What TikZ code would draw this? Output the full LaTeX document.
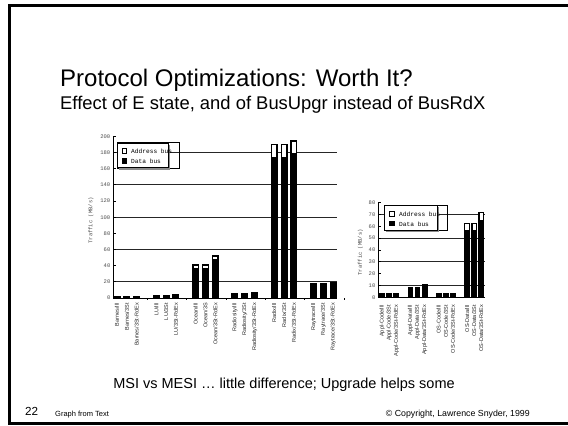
\documentclass[tikz,border=0pt]{standalone}
\usepackage{fontspec}
\setmainfont{Liberation Sans}
\newfontfamily\chartmono{Liberation Mono}
\usetikzlibrary{positioning}

\begin{document}
\begin{tikzpicture}[x=1pt,y=-1pt]
  \tikzstyle{slidetitle}=[anchor=base west,inner sep=0,font=\fontsize{24}{24}\selectfont]
  \tikzstyle{slidesub}=[anchor=base west,inner sep=0,font=\fontsize{18.4}{18.4}\selectfont]
  \tikzstyle{gridline}=[line width=0.9pt,black!85]
  \tikzstyle{axisline}=[line width=1pt]
  \tikzstyle{ticklbl}=[anchor=east,inner sep=0,font=\chartmono\fontsize{5.5}{5.5}\selectfont,text=black!70]
  \tikzstyle{ylbl}=[rotate=90,inner sep=0,font=\chartmono\fontsize{5.5}{5.5}\selectfont,text=black!70]
  \tikzstyle{xlbl}=[rotate=90,anchor=east,inner sep=0,font=\fontsize{5.5}{5.5}\selectfont,text=black!85]
  \tikzstyle{keytext}=[anchor=west,inner sep=0,font=\chartmono\fontsize{6.2}{6.2}\selectfont]
  \useasboundingbox (0,0) rectangle (568,426);
  \draw[line width=2.8pt] (9.5,5.5) rectangle (575,423.5);

  \node[slidetitle] (title) at (60,86) {Protocol Optimizations: Worth It?};
  \node[slidesub] (subtitle) at (60,109) {Effect of E state, and of BusUpgr instead of BusRdX};

  % left chart: applications
  \begin{scope}[shift={(113,298)},y=0.808pt]
    \foreach \v in {20,60,...,180}
      \draw[gridline] (0,\v) -- (224,\v);
    \draw[axisline] (0,200) -- (0,0) -- (224,0);
    \foreach \v in {0,20,...,200} {
      \draw[axisline] (0,\v) -- (2.5,\v);
      \node[ticklbl] (ltick\v) at (-2.5,\v) {\v};
    }
    \foreach \g in {0,...,5}
      \draw[axisline] (\g*39.32+34.4,0) -- (\g*39.32+34.4,-2.5);
    \node[ylbl] (laxis) at (-22,96) {Traffic (MB/s)};
    \foreach \s/\d/\t/\grp/\suf in {0/2/2/Barnes/Ill,1/2/2/Barnes/3St,2/2.6/2.6/Barnes/3St-RdEx,
        4/3.8/3.8/LU/Ill,5/3.8/3.8/LU/3St,6/4.5/4.5/LU/3St-RdEx,
        8/37/41.7/Ocean/Ill,9/37/41.7/Ocean/3S,10/48/53/Ocean/3St-RdEx,
        12/6.5/6.5/Radiosity/Ill,13/6.5/6.5/Radiosity/3St,14/7.5/7.5/Radiosity/3St-RdEx,
        16/175/191/Radix/Ill,17/175/191/Radix/3St,18/179/195/Radix/3St-RdEx,
        20/19/19/Raytrace/Ill,21/19/19/Raytrace/3St,22/20/20/Raytrace/3St-RdEx} {
      \pgfmathsetmacro\xa{\s*9.83+0.5}
      \pgfmathsetmacro\xb{\xa+7}
      \pgfmathtruncatemacro\hasaddr{\t-\d>2}
      \fill (\xa,0) rectangle (\xb,\t);
      \ifnum\hasaddr=1 \fill[white] (\xa+1.4,\d) rectangle (\xb-1.4,\t-1.7); \fi
      \node[xlbl] (lbar\s) at (\xa+3.5,-6.2) {\grp/\suf};
    }
  \end{scope}

  % left legend
  \draw[line width=0.8pt] (117,142) rectangle (179,168.5);
  \fill[black!45] (118.5,144.5) rectangle (169.5,169.5);
  \draw[line width=0.8pt,fill=white] (117,143) rectangle (168,167.5);
  \draw[line width=1pt,fill=white] (122.3,148) rectangle (126.8,153.8);
  \fill (121.8,158.3) rectangle (127.3,164.3);
  \node[keytext] (laddr) at (131,151.5) {Address bus};
  \node[keytext] (ldata) at (131,161.5) {Data bus};

  % right chart: code and data
  \begin{scope}[shift={(378.5,297.6)},y=1.19pt]
    \foreach \v in {10,30,...,70}
      \draw[gridline] (0,\v) -- (106.5,\v);
    \draw[axisline] (0,80) -- (0,0) -- (106.5,0);
    \foreach \v in {0,10,...,80} {
      \draw[axisline] (0,\v) -- (2.5,\v);
      \node[ticklbl] (rtick\v) at (-3,\v) {\v};
    }
    \node[ylbl] (raxis) at (-18,38) {Traffic (MB/s)};
    \foreach \s/\d/\t/\grp/\suf in {0/3.6/3.6/Appl-Code/Ill,1/3.6/3.6/Appl-Code/3St,2/3.6/3.6/Appl-Code/3St-RdEx,
        4/9.2/9.2/Appl-Data/Ill,5/9.2/9.2/Appl-Data/3St,6/11.2/11.2/Appl-Data/3St-RdEx,
        8/4/4/OS-Code/Ill,9/4/4/OS-Code/3St,10/4/4/OS-Code/3St-RdEx,
        12/57/63/OS-Data/Ill,13/57/63/OS-Data/3St,14/65/72/OS-Data/3St-RdEx} {
      \pgfmathsetmacro\xa{\s*7.07+0.8}
      \pgfmathsetmacro\xb{\xa+5.8}
      \pgfmathtruncatemacro\hasaddr{\t-\d>2}
      \fill (\xa,0) rectangle (\xb,\t);
      \ifnum\hasaddr=1 \fill[white] (\xa+1.3,\d) rectangle (\xb-1.3,\t-1.1); \fi
      \node[xlbl] (rbar\s) at (\xa+2.9,-6.2) {\grp/\suf};
    }
  \end{scope}

  % right legend
  \draw[line width=0.8pt] (384.3,205.3) rectangle (447.7,230);
  \fill[black!45] (385.8,206.8) rectangle (439.2,232);
  \draw[line width=0.8pt,fill=white] (384.3,205.3) rectangle (437.7,230.3);
  \draw[line width=1pt,fill=white] (389.6,211.2) rectangle (394.7,216.5);
  \fill (389.1,220.7) rectangle (395.2,226.3);
  \node[keytext] (raddr) at (399,214.2) {Address bus};
  \node[keytext] (rdata) at (399,223.8) {Data bus};

  \node[anchor=base,inner sep=0,font=\fontsize{14.5}{14.5}\selectfont] (remark) at (284,388) {MSI vs MESI … little difference; Upgrade helps some};
  \node[anchor=base west,inner sep=0,font=\fontsize{11.7}{11.7}\selectfont] (pagenum) at (25,415) {22};
  \node[anchor=base west,inner sep=0,font=\fontsize{7.5}{7.5}\selectfont] (source) at (55,416.5) {Graph from Text};
  \node[anchor=base east,inner sep=0,font=\fontsize{8.8}{8.8}\selectfont] (copyright) at (530,416.5) {© Copyright, Lawrence Snyder, 1999};
\end{tikzpicture}
\end{document}
